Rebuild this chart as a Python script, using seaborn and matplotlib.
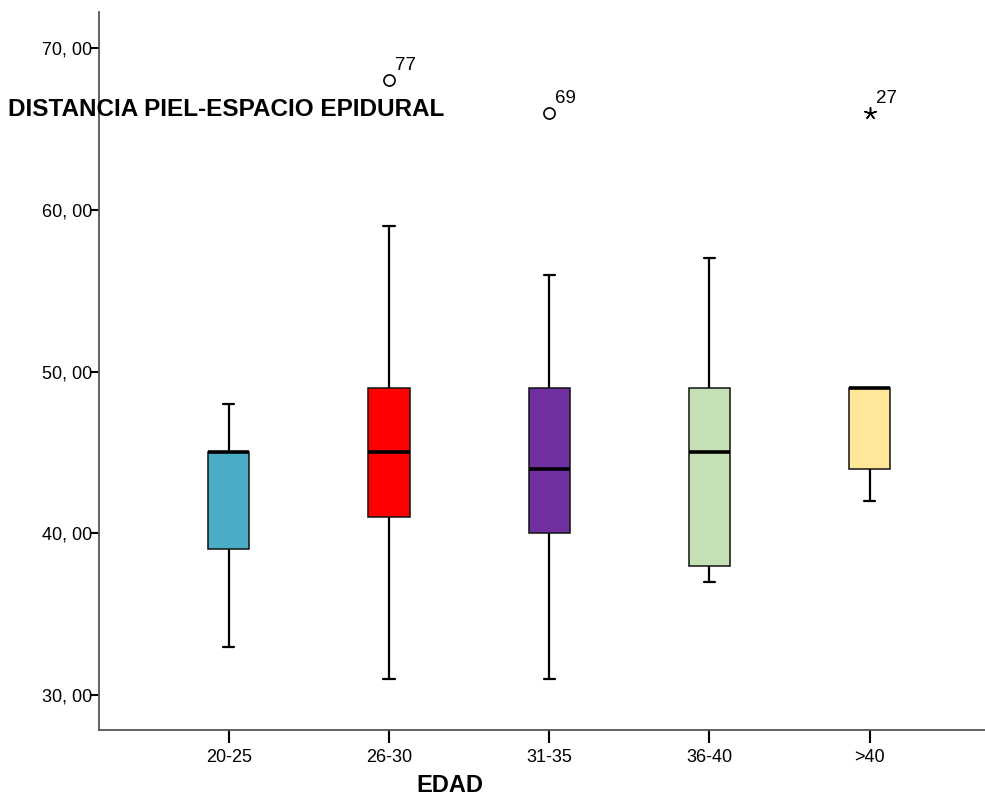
import numpy as np
import pandas as pd
import matplotlib
matplotlib.use("Agg")
import matplotlib.pyplot as plt
import seaborn as sns

# ---- data ----
groups = ["20-25", "26-30", "31-35", "36-40", ">40"]
whisker_low = [33, 31, 31, 37, 42]
q1 = [39, 41, 40, 38, 44]
median = [45, 45, 44, 45, 49]
q3 = [45, 49, 49, 49, 49]
whisker_high = [48, 59, 56, 57, 49]
colors = ["#4BACC6", "#FF0000", "#7030A0", "#C5E0B4", "#FFE699"]

outlier_group = ["26-30", "31-35"]
outlier_value = [68, 66]
outlier_label = ["77", "69"]
extreme_group = [">40"]
extreme_value = [66]
extreme_label = ["27"]

# five-number summaries -> long table (5 points give exactly these quartiles)
rows = []
for g, a, b, c, d, e in zip(groups, whisker_low, q1, median, q3, whisker_high):
    for v in (a, b, c, d, e):
        rows.append({"EDAD": g, "valor": v})
df = pd.DataFrame(rows)

sns.set_style("white")
plt.rcParams["font.family"] = ["Liberation Sans", "DejaVu Sans"]
plt.rcParams["text.color"] = "black"
plt.rcParams["axes.labelcolor"] = "black"
plt.rcParams["xtick.color"] = "black"
plt.rcParams["ytick.color"] = "black"

fig = plt.figure(figsize=(9.85, 7.96), dpi=100)
ax = fig.add_axes([99 / 985, 1 - 730 / 796, 886 / 985, 718 / 796])

sns.boxplot(
    data=df, x="EDAD", y="valor", hue="EDAD", order=groups, hue_order=groups,
    palette=colors, saturation=1, width=0.256, whis=(0, 100), showfliers=False,
    legend=False, ax=ax,
    boxprops=dict(edgecolor="#111111", linewidth=1.1),
    medianprops=dict(color="black", linewidth=2.6),
    whiskerprops=dict(color="black", linewidth=1.6),
    capprops=dict(color="black", linewidth=1.6),
    capwidths=0.07,
)

pos = {g: i for i, g in enumerate(groups)}
ax.scatter([pos[g] for g in outlier_group], outlier_value, s=64, marker="o",
           facecolors="white", edgecolors="black", linewidths=1.2, zorder=5)
ax.scatter([pos[g] for g in extreme_group], extreme_value, s=70, marker=(5, 2),
           color="black", linewidths=1.1, zorder=5)
for g, v, t in zip(outlier_group + extreme_group, outlier_value + extreme_value,
                   outlier_label + extreme_label):
    ax.annotate(t, (pos[g], v), xytext=(4.5, 4.5), textcoords="offset points",
                fontsize=13.5, ha="left", va="bottom")

ax.set_xlim(-0.81, 4.72)
ax.set_ylim(27.84, 72.23)
ax.set_yticks([30, 40, 50, 60, 70])
ax.set_yticklabels(["30, 00", "40, 00", "50, 00", "60, 00", "70, 00"])

for side in ("top", "right"):
    ax.spines[side].set_visible(False)
for side in ("left", "bottom"):
    ax.spines[side].set_color("#555555")
    ax.spines[side].set_linewidth(1.3)

ax.tick_params(axis="y", direction="out", length=6.5, width=1.5,
               pad=-1.5, labelsize=13, left=True)
ax.tick_params(axis="x", direction="out", length=9, width=1.5,
               pad=4.5, labelsize=13, bottom=True)

ax.set_ylabel("")
ax.set_xlabel("EDAD", fontsize=17, fontweight="bold", labelpad=6)
ax.xaxis.label.set_x((450 - 99) / 886)

fig.text(8 / 985, 1 - 110 / 796, "DISTANCIA PIEL-ESPACIO EPIDURAL",
         fontsize=17.5, fontweight="bold", ha="left", va="center")

fig.savefig("out.png", dpi=100)
